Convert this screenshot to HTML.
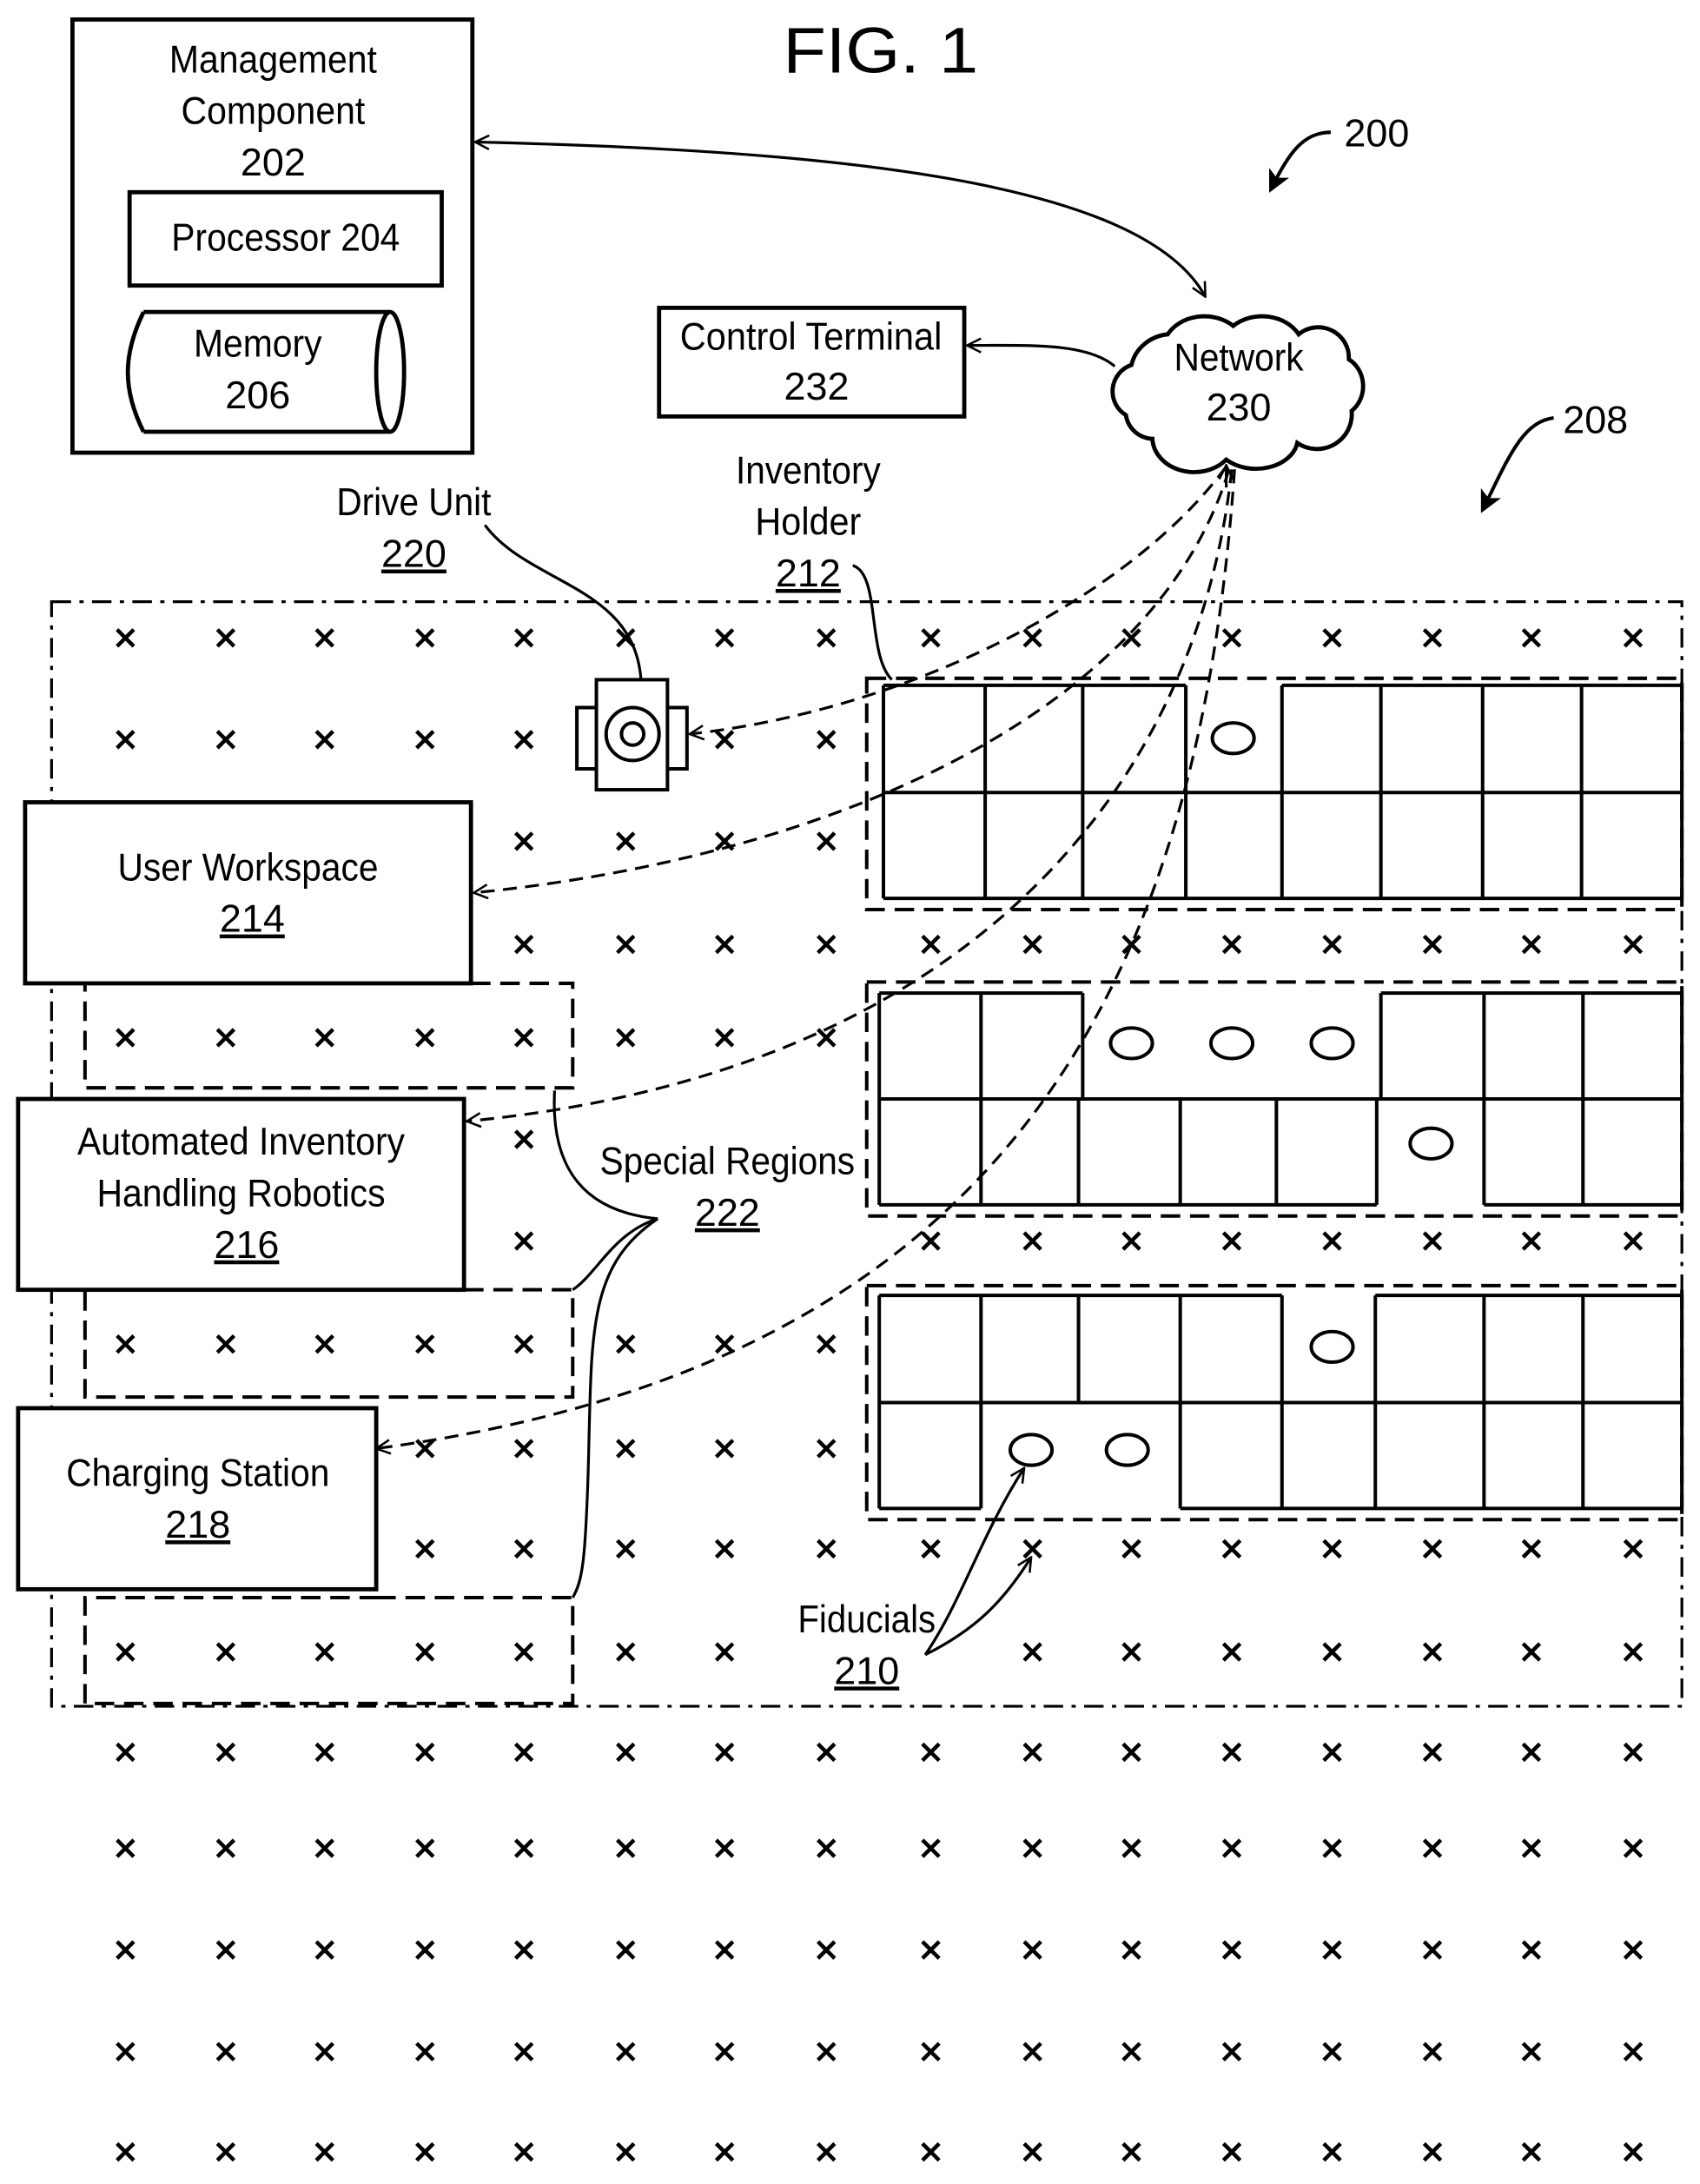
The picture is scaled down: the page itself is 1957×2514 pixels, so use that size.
<!DOCTYPE html>
<html><head><meta charset="utf-8"><style>
html,body{margin:0;padding:0;background:#fff;}
svg{display:block;}
text{font-family:"Liberation Sans Narrow","Liberation Sans",sans-serif;fill:#000;}
</style></head><body>
<svg width="1957" height="2514" viewBox="0 0 1220 1568" preserveAspectRatio="none" xmlns="http://www.w3.org/2000/svg">
<defs>
<marker id="oa" viewBox="0 0 12 12" refX="11" refY="6" markerWidth="12" markerHeight="12" markerUnits="userSpaceOnUse" orient="auto-start-reverse">
<path d="M1,1 L11,6 L1,11" fill="none" stroke="#000" stroke-width="1.6"/></marker>
<marker id="fa" viewBox="0 0 12 12" refX="10" refY="6" markerWidth="16" markerHeight="16" markerUnits="userSpaceOnUse" orient="auto">
<path d="M0,0 L12,6 L0,12 L3,6 Z" fill="#000"/></marker>
<g id="x"><path d="M-6,-6 L6,6 M6,-6 L-6,6" stroke="#000" stroke-width="2.8"/></g>
</defs>
<g font-size="28" text-anchor="middle">
<text x="632" y="52" font-size="46" font-family="Liberation Sans, sans-serif" textLength="140" lengthAdjust="spacingAndGlyphs">FIG. 1</text>
<!-- management -->
<rect x="52" y="14" width="287" height="311" fill="none" stroke="#000" stroke-width="3"/>
<text x="196" y="52" textLength="149" lengthAdjust="spacingAndGlyphs">Management</text>
<text x="196" y="89" textLength="132" lengthAdjust="spacingAndGlyphs">Component</text>
<text x="196" y="126">202</text>
<rect x="93" y="138" width="224" height="67" fill="none" stroke="#000" stroke-width="3"/>
<text x="205" y="180" textLength="164" lengthAdjust="spacingAndGlyphs">Processor 204</text>
<path d="M103,224 L280,224 M103,310 L280,310 M103,224 C88,255 88,280 103,310" fill="none" stroke="#000" stroke-width="3"/>
<ellipse cx="280" cy="267" rx="10" ry="43" fill="none" stroke="#000" stroke-width="3"/>
<text x="185" y="256" textLength="92" lengthAdjust="spacingAndGlyphs">Memory</text>
<text x="185" y="293">206</text>
<!-- 200 / 208 -->
<text x="988" y="105">200</text>
<path d="M955,95 C935,95 925,110 912,136" fill="none" stroke="#000" stroke-width="2.5" marker-end="url(#fa)"/>
<text x="1145" y="311">208</text>
<path d="M1115,300 C1092,303 1082,330 1064,366" fill="none" stroke="#000" stroke-width="2.5" marker-end="url(#fa)"/>
<!-- control terminal -->
<rect x="473" y="221" width="219" height="78" fill="none" stroke="#000" stroke-width="3"/>
<text x="582" y="251" textLength="188" lengthAdjust="spacingAndGlyphs">Control Terminal</text>
<text x="586" y="287">232</text>
<!-- network -->
<path d="M812,262 A30,28 0 0 1 838,240 A30,25 0 0 1 885,234 A30,25 0 0 1 932,240 A22,22 0 0 1 968,258 A20,22 0 0 1 970,295 A25,25 0 0 1 931,318 A30,22 0 0 1 880,330 A30,25 0 0 1 827,315 A20,20 0 0 1 808,298 A20,20 0 0 1 812,262 Z" fill="#fff" stroke="#000" stroke-width="3"/>
<text x="889" y="266" textLength="93" lengthAdjust="spacingAndGlyphs">Network</text>
<text x="889" y="302">230</text>
<path d="M341,102 C600,108 820,130 865,213" fill="none" stroke="#000" stroke-width="2" marker-start="url(#oa)" marker-end="url(#oa)"/>
<path d="M800,263 C780,246 740,248 694,248" fill="none" stroke="#000" stroke-width="2" marker-end="url(#oa)"/>
<!-- labels -->
<text x="297" y="370" textLength="111" lengthAdjust="spacingAndGlyphs">Drive Unit</text>
<text x="297" y="407" text-decoration="underline">220</text>
<path d="M348,377 C380,420 455,420 460,488" fill="none" stroke="#000" stroke-width="2"/>
<text x="580" y="347" textLength="104" lengthAdjust="spacingAndGlyphs">Inventory</text>
<text x="580" y="384" textLength="76" lengthAdjust="spacingAndGlyphs">Holder</text>
<text x="580" y="421" text-decoration="underline">212</text>
<path d="M612,406 C632,412 622,470 640,488" fill="none" stroke="#000" stroke-width="2"/>
<!-- outer region -->
<rect x="37" y="432" width="1170" height="793" fill="none" stroke="#000" stroke-width="2" stroke-dasharray="14,6,3,6"/>
<!-- drive unit -->
<rect x="414" y="508" width="79" height="44" fill="#fff" stroke="#000" stroke-width="2.5"/>
<rect x="428" y="488" width="51" height="79" fill="#fff" stroke="#000" stroke-width="2.5"/>
<circle cx="454" cy="527" r="19" fill="none" stroke="#000" stroke-width="2.5"/>
<circle cx="454" cy="527" r="8" fill="none" stroke="#000" stroke-width="2.5"/>
<!-- shelves -->
<g fill="none" stroke="#000" stroke-width="2.5">
<rect x="622" y="487" width="585" height="166" stroke-dasharray="14,7"/>
<path d="M634,492 H851 M920,492 H1207 M634,569 H1207 M634,645 H1207 M634,492 V645 M707,492 V645 M777,492 V645 M851,492 V645 M920,492 V645 M991,492 V645 M1064,492 V645 M1135,492 V645 M1207,492 V645"/>
<ellipse cx="885" cy="530" rx="15" ry="11"/>
<rect x="622" y="705" width="585" height="168" stroke-dasharray="14,7"/>
<path d="M631,713 H777 M991,713 H1207 M631,789 H1207 M631,865 H988 M1065,865 H1207 M631,713 V865 M704,713 V865 M777,713 V789 M774,789 V865 M847,789 V865 M916,789 V865 M988,789 V865 M991,713 V789 M1065,713 V865 M1136,713 V865 M1207,713 V865"/>
<ellipse cx="812" cy="749" rx="15" ry="11"/><ellipse cx="884" cy="749" rx="15" ry="11"/><ellipse cx="956" cy="749" rx="15" ry="11"/>
<ellipse cx="1027" cy="821" rx="15" ry="11"/>
<rect x="622" y="923" width="585" height="168" stroke-dasharray="14,7"/>
<path d="M631,930 H920 M987,930 H1207 M631,1007 H1207 M631,1083 H704 M847,1083 H1207 M631,930 V1083 M704,930 V1083 M774,930 V1007 M847,930 V1083 M920,930 V1083 M987,930 V1083 M1065,930 V1083 M1136,930 V1083 M1207,930 V1083"/>
<ellipse cx="956" cy="967" rx="15" ry="11"/>
<ellipse cx="740" cy="1041" rx="15" ry="11"/><ellipse cx="809" cy="1041" rx="15" ry="11"/>
</g>
<!-- left boxes -->
<g fill="none" stroke="#000" stroke-width="2.5" stroke-dasharray="14,7">
<path d="M338,706 H411 V781 H61 V706"/>
<path d="M333,926 H411 V1003 H61 V926"/>
<path d="M270,1147 H411 V1223 H61 V1147 H270"/>
</g>
<rect x="18" y="576" width="320" height="130" fill="#fff" stroke="#000" stroke-width="3"/>
<text x="178" y="632" textLength="187" lengthAdjust="spacingAndGlyphs">User Workspace</text>
<text x="181" y="669" text-decoration="underline">214</text>
<rect x="13" y="789" width="320" height="137" fill="#fff" stroke="#000" stroke-width="3"/>
<text x="173" y="829" textLength="235" lengthAdjust="spacingAndGlyphs">Automated Inventory</text>
<text x="173" y="866" textLength="207" lengthAdjust="spacingAndGlyphs">Handling Robotics</text>
<text x="177" y="903" text-decoration="underline">216</text>
<rect x="13" y="1011" width="257" height="130" fill="#fff" stroke="#000" stroke-width="3"/>
<text x="142" y="1067" textLength="189" lengthAdjust="spacingAndGlyphs">Charging Station</text>
<text x="142" y="1104" text-decoration="underline">218</text>
<!-- brace -->
<path d="M398,783 C395,840 420,870 472,875 C440,885 428,915 411,926 M472,875 C420,910 425,960 422,1060 C420,1120 418,1135 411,1147" fill="none" stroke="#000" stroke-width="2"/>
<text x="522" y="843" textLength="183" lengthAdjust="spacingAndGlyphs">Special Regions</text>
<text x="522" y="880" text-decoration="underline">222</text>
<text x="622" y="1172" textLength="99" lengthAdjust="spacingAndGlyphs">Fiducials</text>
<text x="622" y="1209" text-decoration="underline">210</text>
<path d="M664,1188 C690,1150 705,1100 735,1054" fill="none" stroke="#000" stroke-width="2" marker-end="url(#oa)"/>
<path d="M664,1188 C700,1170 720,1150 740,1118" fill="none" stroke="#000" stroke-width="2" marker-end="url(#oa)"/>
<!-- dashed network arrows -->
<g fill="none" stroke="#000" stroke-width="2" stroke-dasharray="10,6">
<path d="M880,335 C810,430 650,510 495,527" marker-end="url(#oa)"/>
<path d="M882,337 C830,510 600,615 340,641" marker-end="url(#oa)"/>
<path d="M884,337 C860,560 700,770 335,805" marker-end="url(#oa)"/>
<path d="M886,337 C860,710 720,980 270,1040" marker-end="url(#oa)"/>
</g>
<path d="M880,350 L880,334" stroke="#000" stroke-width="2" marker-end="url(#oa)"/>
</g>
<g>
<g transform="translate(0,458)"><use href="#x" x="90"/><use href="#x" x="162"/><use href="#x" x="233"/><use href="#x" x="305"/><use href="#x" x="376"/><use href="#x" x="449"/><use href="#x" x="520"/><use href="#x" x="593"/><use href="#x" x="668"/><use href="#x" x="741"/><use href="#x" x="812"/><use href="#x" x="884"/><use href="#x" x="956"/><use href="#x" x="1028"/><use href="#x" x="1099"/><use href="#x" x="1172"/></g>
<g transform="translate(0,531)"><use href="#x" x="90"/><use href="#x" x="162"/><use href="#x" x="233"/><use href="#x" x="305"/><use href="#x" x="376"/><use href="#x" x="520"/><use href="#x" x="593"/></g>
<g transform="translate(0,604)"><use href="#x" x="376"/><use href="#x" x="449"/><use href="#x" x="520"/><use href="#x" x="593"/></g>
<g transform="translate(0,678)"><use href="#x" x="376"/><use href="#x" x="449"/><use href="#x" x="520"/><use href="#x" x="593"/><use href="#x" x="668"/><use href="#x" x="741"/><use href="#x" x="812"/><use href="#x" x="884"/><use href="#x" x="956"/><use href="#x" x="1028"/><use href="#x" x="1099"/><use href="#x" x="1172"/></g>
<g transform="translate(0,745)"><use href="#x" x="90"/><use href="#x" x="162"/><use href="#x" x="233"/><use href="#x" x="305"/><use href="#x" x="376"/><use href="#x" x="449"/><use href="#x" x="520"/><use href="#x" x="593"/></g>
<g transform="translate(0,818)"><use href="#x" x="376"/></g>
<g transform="translate(0,891)"><use href="#x" x="376"/><use href="#x" x="668"/><use href="#x" x="741"/><use href="#x" x="812"/><use href="#x" x="884"/><use href="#x" x="956"/><use href="#x" x="1028"/><use href="#x" x="1099"/><use href="#x" x="1172"/></g>
<g transform="translate(0,965)"><use href="#x" x="90"/><use href="#x" x="162"/><use href="#x" x="233"/><use href="#x" x="305"/><use href="#x" x="376"/><use href="#x" x="449"/><use href="#x" x="520"/><use href="#x" x="593"/></g>
<g transform="translate(0,1040)"><use href="#x" x="305"/><use href="#x" x="376"/><use href="#x" x="449"/><use href="#x" x="520"/><use href="#x" x="593"/></g>
<g transform="translate(0,1112)"><use href="#x" x="305"/><use href="#x" x="376"/><use href="#x" x="449"/><use href="#x" x="520"/><use href="#x" x="593"/><use href="#x" x="668"/><use href="#x" x="741"/><use href="#x" x="812"/><use href="#x" x="884"/><use href="#x" x="956"/><use href="#x" x="1028"/><use href="#x" x="1099"/><use href="#x" x="1172"/></g>
<g transform="translate(0,1186)"><use href="#x" x="90"/><use href="#x" x="162"/><use href="#x" x="233"/><use href="#x" x="305"/><use href="#x" x="376"/><use href="#x" x="449"/><use href="#x" x="520"/><use href="#x" x="741"/><use href="#x" x="812"/><use href="#x" x="884"/><use href="#x" x="956"/><use href="#x" x="1028"/><use href="#x" x="1099"/><use href="#x" x="1172"/></g>
<g id="fullrow" transform="translate(0,1258)"><use href="#x" x="90"/><use href="#x" x="162"/><use href="#x" x="233"/><use href="#x" x="305"/><use href="#x" x="376"/><use href="#x" x="449"/><use href="#x" x="520"/><use href="#x" x="593"/><use href="#x" x="668"/><use href="#x" x="741"/><use href="#x" x="812"/><use href="#x" x="884"/><use href="#x" x="956"/><use href="#x" x="1028"/><use href="#x" x="1099"/><use href="#x" x="1172"/></g>
<use href="#fullrow" y="69"/>
<use href="#fullrow" y="142"/>
<use href="#fullrow" y="215"/>
<use href="#fullrow" y="287"/>
</g>
</svg>
</body></html>
